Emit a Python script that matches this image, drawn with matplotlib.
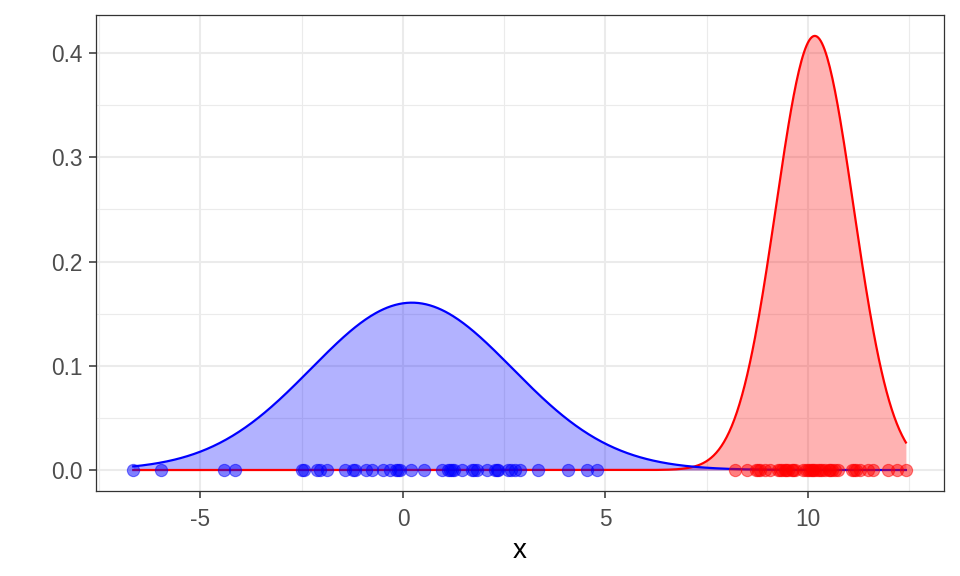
import numpy as np
import matplotlib
matplotlib.use("Agg")
import matplotlib.pyplot as plt
from matplotlib.ticker import MultipleLocator

# normal density parameters (peak position, peak height)
blue_mean, blue_sd = 0.22, 2.485
red_mean, red_sd = 10.17, 0.958

# sample positions along the baseline
blue_x = [-6.66, -5.98, -4.42, -4.15, -2.49, -2.45, -2.13, -2.05, -1.88,
          -1.43, -1.23, -1.18, -0.91, -0.76, -0.49, -0.32, -0.18, -0.12,
          -0.08, 0.21, 0.53, 0.97, 1.12, 1.17, 1.20, 1.25, 1.45, 1.70,
          1.76, 1.82, 2.07, 2.27, 2.32, 2.35, 2.60, 2.68, 2.77, 2.89,
          3.34, 4.08, 4.54, 4.80]
red_x = [8.21, 8.49, 8.73, 8.77, 8.81, 8.94, 9.06, 9.27, 9.30, 9.35, 9.43,
         9.47, 9.51, 9.60, 9.64, 9.68, 9.89, 9.95, 10.01, 10.05, 10.09,
         10.13, 10.17, 10.26, 10.30, 10.34, 10.42, 10.51, 10.55, 10.59,
         10.67, 10.75, 11.08, 11.14, 11.20, 11.28, 11.49, 11.61, 11.98,
         12.19, 12.42]


def dnorm(x, m, s):
    return np.exp(-0.5 * ((x - m) / s) ** 2) / (s * np.sqrt(2 * np.pi))


plt.rcParams["font.family"] = ["Liberation Sans", "DejaVu Sans"]

fig = plt.figure(figsize=(9.6, 5.76), dpi=100)
ax = fig.add_axes([0.1, 0.1476, 0.8833, 0.8264])

xs = np.linspace(min(blue_x + red_x), max(blue_x + red_x), 600)
blue_y = dnorm(xs, blue_mean, blue_sd)
red_y = dnorm(xs, red_mean, red_sd)

ax.fill_between(xs, 0, red_y, color="#ff0000", alpha=0.3, linewidth=0, zorder=2)
ax.fill_between(xs, 0, blue_y, color="#0000ff", alpha=0.3, linewidth=0, zorder=2)
ax.plot(xs, red_y, color="#ff0000", lw=1.6, zorder=3)
ax.plot(xs, blue_y, color="#0000ff", lw=1.6, zorder=3)

ax.plot(blue_x, np.zeros(len(blue_x)), "o", ms=8.8, color="#0000ff",
        alpha=0.5, mec="#0000ff", mew=0.8, zorder=4)
ax.plot(red_x, np.zeros(len(red_x)), "o", ms=8.8, color="#ff0000",
        alpha=0.5, mec="#ff0000", mew=0.8, zorder=4)

ax.set_xlim(-7.58, 13.36)
ax.set_ylim(-0.0201, 0.4365)
ax.xaxis.set_minor_locator(MultipleLocator(2.5))
ax.yaxis.set_minor_locator(MultipleLocator(0.05))
ax.set_xticks([-5, 0, 5, 10])
ax.set_xticklabels(["-5", "0", "5", "10"])
ax.set_yticks([0.0, 0.1, 0.2, 0.3, 0.4])
ax.set_yticklabels(["0.0", "0.1", "0.2", "0.3", "0.4"])

ax.grid(which="major", color="#ebebeb", lw=1.5, zorder=0)
ax.grid(which="minor", color="#ebebeb", lw=0.8, zorder=0)
ax.set_axisbelow(True)
ax.tick_params(which="major", length=5, width=1.1, color="#333333",
               labelsize=16.3, labelcolor="#4d4d4d")
ax.tick_params(axis="y", pad=4.5)
ax.tick_params(axis="x", pad=7)
ax.tick_params(which="minor", length=0)
for sp in ax.spines.values():
    sp.set_color("#333333")
    sp.set_linewidth(0.9)

ax.set_xlabel("x", fontsize=20, labelpad=5)

fig.savefig("out.png", dpi=100)
